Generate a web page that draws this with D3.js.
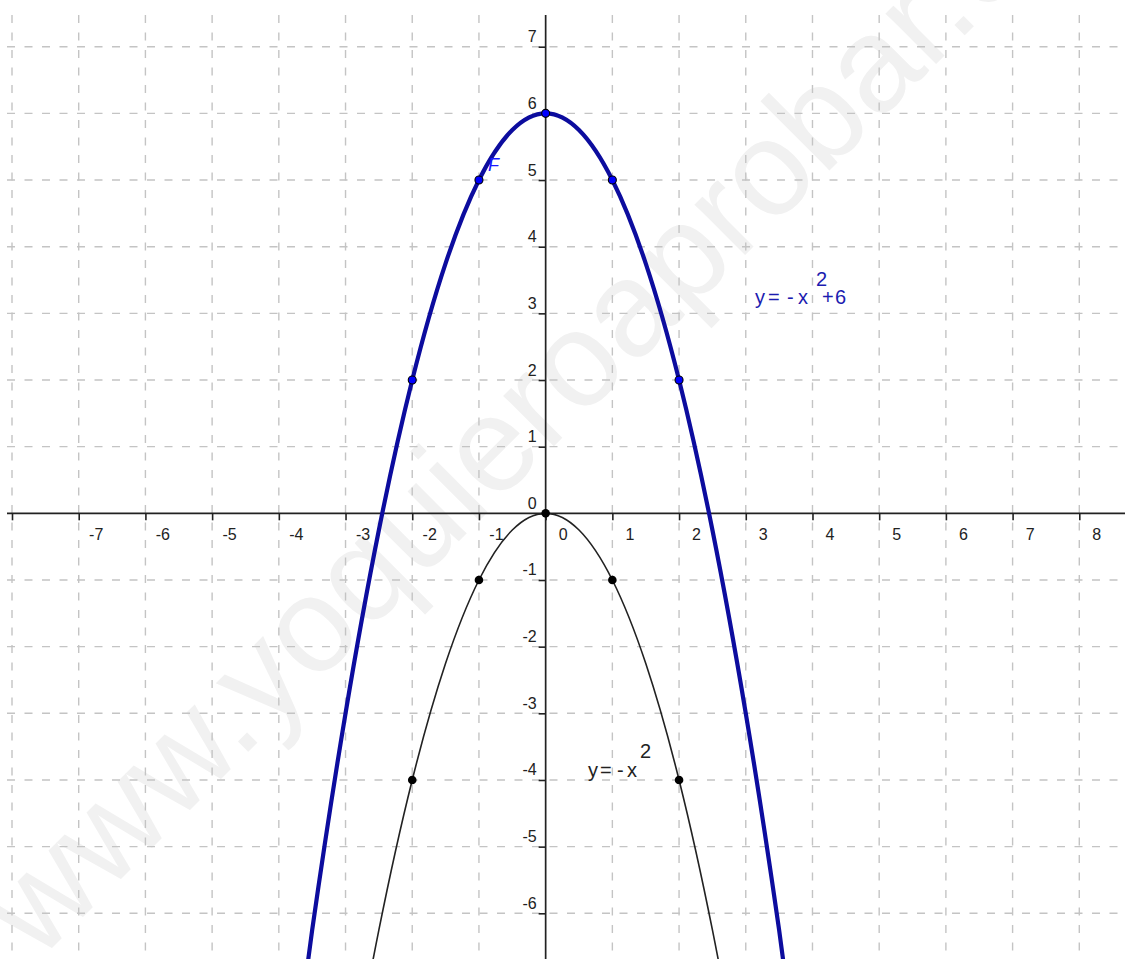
<!DOCTYPE html>
<html><head><meta charset="utf-8">
<script src="https://cdn.jsdelivr.net/npm/d3@7"></script>
<style>
html,body{margin:0;padding:0;background:#fff;overflow:hidden}
svg{display:block}
</style>
</head><body>
<svg id="chart" width="1125" height="959"></svg>
<script>
// ---------- data ----------
const xTickValues = [-8,-7,-6,-5,-4,-3,-2,-1,0,1,2,3,4,5,6,7,8];
const xTickLabels = [-7,-6,-5,-4,-3,-2,-1,0,1,2,3,4,5,6,7,8];
const yTickValues = [-6,-5,-4,-3,-2,-1,0,1,2,3,4,5,6,7];
const yTickLabels = [-6,-5,-4,-3,-2,-1,0,1,2,3,4,5,6,7];

// blue curve y = -x^2 + 6 (vertices read on the grid)
const blueCurveX = [-4.5,-4,-3.5,-3,-2.5,-2,-1.5,-1,-0.5,0,0.5,1,1.5,2,2.5,3,3.5,4,4.5];
const blueCurveY = [-14.25,-10,-6.25,-3,-0.25,2,3.75,5,5.75,6,5.75,5,3.75,2,-0.25,-3,-6.25,-10,-14.25];
// black curve y = -x^2
const blackCurveX = [-3.5,-3,-2.5,-2,-1.5,-1,-0.5,0,0.5,1,1.5,2,2.5,3,3.5];
const blackCurveY = [-12.25,-9,-6.25,-4,-2.25,-1,-0.25,0,-0.25,-1,-2.25,-4,-6.25,-9,-12.25];

const bluePointsX = [-2,-1,0,1,2];
const bluePointsY = [2,5,6,5,2];
const blackPointsX = [-2,-1,0,1,2];
const blackPointsY = [-4,-1,0,-1,-4];

const blueLabelMain = ["y","=","-","x"];
const blueLabelSup = "2";
const blueLabelTail = ["+","6"];
const blackLabelMain = ["y","=","-","x"];
const blackLabelSup = "2";
const pointLabel = "F";
const watermarkText = "www.yoquieroaprobar.es";

// ---------- layout ----------
const W = 1125, H = 959;
const FONT = '"Liberation Sans", Arial, sans-serif';
const svg = d3.select("#chart");

const x = d3.scaleLinear().domain([-8, 8]).range([12, 1079.3]);
const y = d3.scaleLinear().domain([7, -6]).range([46.7, 913.3]);

const viewLeft = 7, viewTop = 15;
const xMin = x.invert(viewLeft), xMax = x.invert(W);
const yMax = y.invert(viewTop), yMin = y.invert(H);

// watermark
svg.append("text")
  .attr("transform", "translate(38,962) rotate(-45)")
  .attr("font-family", FONT)
  .attr("font-size", 135)
  .attr("fill", "#f1f1f1")
  .text(watermarkText);

// grid
const grid = svg.append("g")
  .attr("stroke", "#c4c4c4")
  .attr("stroke-width", 1.4)
  .attr("stroke-dasharray", "8,9.5");
grid.selectAll("line.h").data(yTickValues.filter(d => d !== 0)).join("line")
  .attr("class", "h")
  .attr("x1", x(xMin)).attr("x2", x(xMax))
  .attr("y1", d => y(d)).attr("y2", d => y(d));
grid.selectAll("line.v").data(xTickValues.filter(d => d !== 0)).join("line")
  .attr("class", "v")
  .attr("y1", y(yMax)).attr("y2", y(yMin))
  .attr("x1", d => x(d)).attr("x2", d => x(d));

// axis lines
const axisColor = "#222";
svg.append("line")
  .attr("x1", x(xMin)).attr("x2", x(xMax))
  .attr("y1", y(0)).attr("y2", y(0))
  .attr("stroke", axisColor).attr("stroke-width", 1.7);
svg.append("line")
  .attr("x1", x(0)).attr("x2", x(0))
  .attr("y1", y(yMax)).attr("y2", y(yMin))
  .attr("stroke", axisColor).attr("stroke-width", 1.7);

// x axis ticks and labels
const gx = svg.append("g")
  .attr("transform", `translate(0,${y(0)})`)
  .call(d3.axisBottom(x).tickValues(xTickValues).tickSize(7).tickSizeOuter(0)
    .tickFormat(d => xTickLabels.includes(d) ? String(d) : ""));
gx.select(".domain").remove();
gx.attr("font-family", FONT).attr("font-size", 16);
gx.selectAll(".tick line").attr("stroke", axisColor).attr("stroke-width", 1.6);
gx.selectAll(".tick text").attr("x", 17).attr("y", 27).attr("dy", 0)
  .attr("text-anchor", "middle").attr("fill", "#222");

// y axis ticks and labels
const gy = svg.append("g")
  .attr("transform", `translate(${x(0)},0)`)
  .call(d3.axisLeft(y).tickValues(yTickValues).tickSize(7).tickSizeOuter(0)
    .tickFormat(d => yTickLabels.includes(d) ? String(d) : ""));
gy.select(".domain").remove();
gy.attr("font-family", FONT).attr("font-size", 16);
gy.selectAll(".tick line").attr("stroke", axisColor).attr("stroke-width", 1.6);
gy.selectAll(".tick text").attr("x", -9).attr("y", -5).attr("dy", 0)
  .attr("text-anchor", "end").attr("fill", "#222");

// clip for curves
svg.append("clipPath").attr("id", "view")
  .append("rect").attr("x", viewLeft).attr("y", viewTop)
  .attr("width", W - viewLeft).attr("height", H - viewTop);

const line = d3.line()
  .x(d => x(d[0])).y(d => y(d[1]))
  .curve(d3.curveCardinal.tension(0));

const blackData = blackCurveX.map((v, i) => [v, blackCurveY[i]]);
const blueData = blueCurveX.map((v, i) => [v, blueCurveY[i]]);

const curves = svg.append("g").attr("clip-path", "url(#view)");
curves.append("path").datum(blackData)
  .attr("d", line).attr("fill", "none")
  .attr("stroke", "#222").attr("stroke-width", 1.6);
curves.append("path").datum(blueData)
  .attr("d", line).attr("fill", "none")
  .attr("stroke", "#0c0c9e").attr("stroke-width", 4.2);

// point label F
svg.append("text")
  .attr("x", 488).attr("y", 171)
  .attr("font-family", FONT).attr("font-size", 18).attr("font-style", "italic")
  .attr("fill", "#1a1aff")
  .text(pointLabel);

// points
svg.append("g").selectAll("circle")
  .data(blackPointsX.map((v, i) => [v, blackPointsY[i]]))
  .join("circle")
  .attr("cx", d => x(d[0])).attr("cy", d => y(d[1])).attr("r", 4.3)
  .attr("fill", "#000");
svg.append("g").selectAll("circle")
  .data(bluePointsX.map((v, i) => [v, bluePointsY[i]]))
  .join("circle")
  .attr("cx", d => x(d[0])).attr("cy", d => y(d[1])).attr("r", 4)
  .attr("fill", "#0000ff").attr("stroke", "#000").attr("stroke-width", 1.1);

// equation labels (glyph positions placed individually)
const bl = svg.append("text").attr("font-family", FONT).attr("font-size", 20).attr("fill", "#1c1cb0");
bl.append("tspan").attr("x", "755 768 787 798").attr("y", 304).text(blueLabelMain.join(""));
bl.append("tspan").attr("x", 816).attr("y", 286).text(blueLabelSup);
bl.append("tspan").attr("x", "822 835").attr("y", 304).text(blueLabelTail.join(""));

const kl = svg.append("text").attr("font-family", FONT).attr("font-size", 20).attr("fill", "#222");
kl.append("tspan").attr("x", "588 600 617 627").attr("y", 777).text(blackLabelMain.join(""));
kl.append("tspan").attr("x", 640).attr("y", 758).text(blackLabelSup);
</script>
</body></html>
